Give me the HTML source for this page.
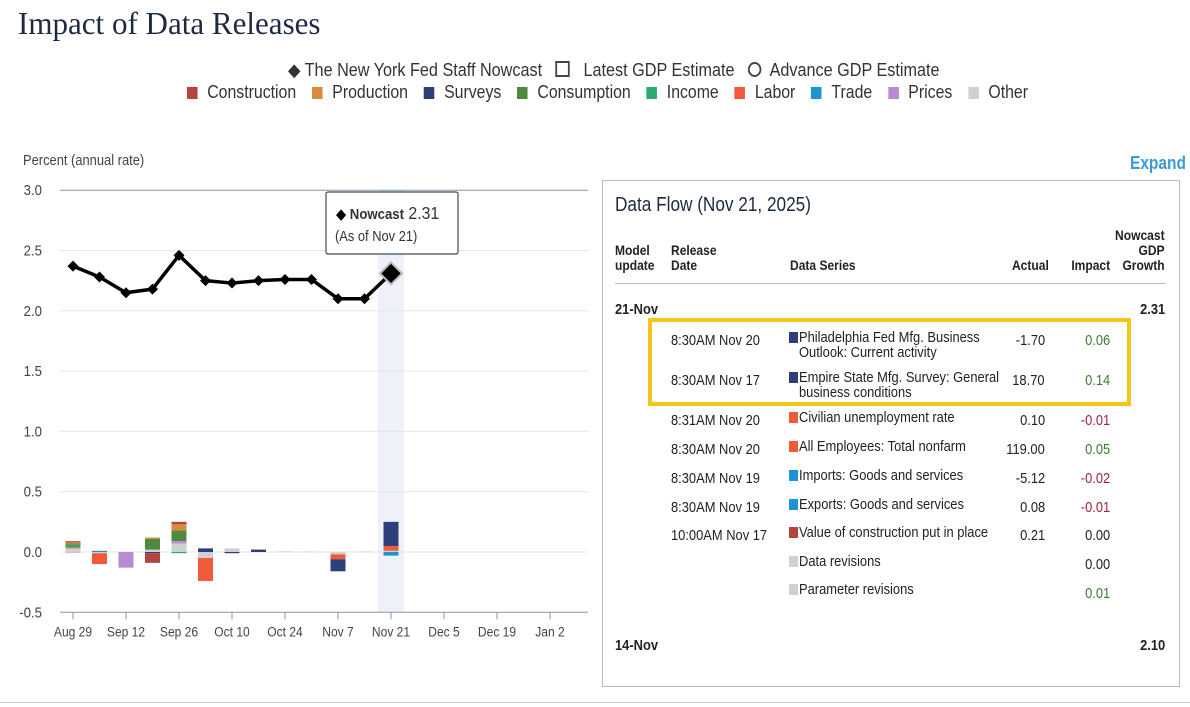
<!DOCTYPE html>
<html><head><meta charset="utf-8">
<style>
body{margin:0;width:1190px;height:707px;background:#fff;position:relative;overflow:hidden;font-family:"Liberation Sans",sans-serif;color:#222}
.t{position:absolute;white-space:nowrap;transform:scaleX(0.86);transform-origin:left top}
.tr{transform-origin:right top}
.sq{display:inline-block;width:12px;height:12px;margin-right:6px;vertical-align:-1px}
#panel{position:absolute;left:602px;top:180px;width:578px;height:507px;border:1px solid #b8bcc4;box-sizing:border-box}
</style></head><body>
<div class="t" style="left:18px;top:5px;font-family:'Liberation Serif',serif;font-size:32px;color:#1c2a44;transform:scaleX(0.97)">Impact of Data Releases</div>

<div class="t" style="left:288px;top:60px;font-size:18px;color:#333;transform:scaleX(0.9)">
<span>◆ The New York Fed Staff Nowcast</span>
<span style="margin-left:10px"><span style="display:inline-block;width:12px;height:12px;border:2px solid #444;vertical-align:-1px"></span>&nbsp;&nbsp; Latest GDP Estimate</span>
<span style="margin-left:10px"><span style="display:inline-block;width:11px;height:11px;border:2px solid #444;border-radius:50%;vertical-align:-1px"></span>&nbsp; Advance GDP Estimate</span>
</div>
<div class="t" id="leg2" style="left:187px;top:82px;font-size:18px;color:#333;transform:scaleX(0.88)"></div>

<div class="t" style="left:23px;top:152px;font-size:15px;color:#444">Percent (annual rate)</div>
<div class="t" style="left:1130px;top:153px;font-size:18px;font-weight:bold;color:#3a9ad9">Expand</div>

<svg id="chart" width="600" height="707" style="position:absolute;left:0;top:0"></svg>

<div id="panel"></div>
<div style="position:absolute;left:0;top:702px;width:1190px;height:1px;background:#c8ccd2"></div>

<script>
const cats=["Construction","Production","Surveys","Consumption","Income","Labor","Trade","Prices","Other"];
const colors=["#b5443f","#d98b3a","#2d3e7a","#4e8a3e","#2bab6e","#f05a3a","#1a94d4","#b98bd4","#cfcfd4"];
const weeks=["Aug 29","Sep 5","Sep 12","Sep 19","Sep 26","Oct 3","Oct 10","Oct 17","Oct 24","Oct 31","Nov 7","Nov 14","Nov 21"];
const nowcast=[2.37,2.28,2.15,2.18,2.46,2.25,2.23,2.25,2.26,2.26,2.10,2.10,2.31];
const construction=[0.01,0,0,-0.08,0.02,0,0,0,0,0,0,0,0];
const production=[0.01,0,0,0.01,0.05,0,0,0,0,0,0,0,0];
const surveys=[0,0,0,-0.01,0,0.03,-0.01,0.02,0,0,-0.1,0,0.20];
const consumption=[0.01,0,0,0.09,0.09,0,0,0,0,0,0,0,0];
const income=[0.02,0,0,0,-0.01,0,0,0,0,0,0,0,0];
const labor=[0.01,-0.09,0,0,0,-0.19,0,0,0,0,-0.04,0,0.04];
const trade=[0,0.01,0,0,0,0,0,0,0,0,0,0,-0.03];
const prices=[-0.005,0,-0.13,0,0.02,0,0,0,0,0,0,0,0];
const other=[0.03,-0.01,0,0.02,0.07,-0.05,0.03,0,0.005,0.003,-0.02,0.003,0.01];
const series=[construction,production,surveys,consumption,income,labor,trade,prices,other];
const yTicks=[3.0,2.5,2.0,1.5,1.0,0.5,0.0,-0.5];
const xTicks=["Aug 29","Sep 12","Sep 26","Oct 10","Oct 24","Nov 7","Nov 21","Dec 5","Dec 19","Jan 2"];

const y=v=>552-v*120.6;
const x=i=>73+i*26.5;
const NS="http://www.w3.org/2000/svg";
const svg=document.getElementById('chart');
const FF='Liberation Sans, sans-serif';
function mk(tag,a,par){const e=document.createElementNS(NS,tag);for(const k in a)e.setAttribute(k,a[k]);(par||svg).appendChild(e);return e;}

const leg=document.getElementById('leg2');
cats.forEach((c,i)=>{const s=document.createElement('span');


s.style.marginRight='18px';
s.innerHTML='<span class="sq" style="background:'+colors[i]+'"></span>&nbsp;'+c;leg.appendChild(s);});

const hb=mk('rect',{x:x(12)-13,y:y(3.0),width:26,height:y(-0.5)-y(3.0),fill:'#eef2f8'});


yTicks.forEach(v=>{
 const l=mk('line',{x1:60,x2:588,y1:y(v),y2:y(v),stroke:v===3||v===-0.5?'#8a95a5':'#e3e6ea','stroke-width':1});
 
 
 const t=mk('text',{x:42,y:y(v)+5,'text-anchor':'end','font-size':15,fill:'#444','font-family':FF,transform:`translate(42,0) scale(0.88,1) translate(-42,0)`});
 t.textContent=v.toFixed(1);
 
 
});
xTicks.forEach((lab,i)=>{
 const xx=x(i*2);
 mk('line',{x1:xx,x2:xx,y1:y(-0.5),y2:y(-0.5)+7,stroke:'#8a95a5'});
 const t=mk('text',{x:xx,y:y(-0.5)+24,'text-anchor':'middle','font-size':14,fill:'#444','font-family':FF,transform:`translate(${xx},0) scale(0.86,1) translate(${-xx},0)`});
 t.textContent=lab;
 
 
});
weeks.forEach((w,i)=>{
 let pos=0,neg=0;
 for(let k=series.length-1;k>=0;k--){
  const v=series[k][i]; if(!v) continue;
  let y0,y1;
  if(v>0){y0=pos;y1=pos+v;pos=y1;}else{y0=neg;y1=neg+v;neg=y1;}
  const r=mk('rect',{x:x(i)-7.5,y:Math.min(y(y0),y(y1)),width:15,height:Math.max(Math.abs(y(y1)-y(y0)),0.6),fill:colors[k]});
  
  
 }
});
const pl=mk('polyline',{points:nowcast.map((v,i)=>x(i)+','+y(v)).join(' '),fill:'none',stroke:'#000','stroke-width':3.5,'stroke-linejoin':'round'});


nowcast.forEach((v,i)=>{
 const last=i===nowcast.length-1, s=last?11:5.5;
 const p=mk('path',{d:`M${x(i)},${y(v)-s}L${x(i)+s},${y(v)}L${x(i)},${y(v)+s}L${x(i)-s},${y(v)}Z`,fill:'#000',stroke:last?'#bbb':'none','stroke-width':last?2:0});
 
 
});
const tg=mk('g',{});


mk('rect',{x:326,y:192,width:132,height:62,rx:2,fill:'#fff',stroke:'#3c4a5c','stroke-width':1.2},tg);
const t1=mk('text',{x:336,y:219,'font-size':15,'font-family':FF,transform:'translate(336,0) scale(0.88,1) translate(-336,0)'},tg);
t1.innerHTML='<tspan>◆ </tspan><tspan font-weight="bold" fill="#333">Nowcast</tspan><tspan font-size="18" fill="#333"> '+nowcast[12].toFixed(2)+'</tspan>';
const t2=mk('text',{x:335,y:241,'font-size':15,fill:'#333','font-family':FF,transform:'translate(335,0) scale(0.86,1) translate(-335,0)'},tg);
t2.textContent='(As of Nov 21)';

const P=document.getElementById('panel');
function tx(l,t,txt,st,name,right){const d=document.createElement('div');d.className='t'+(right?' tr':'');
d.style.cssText=(right?'right:'+(578-2-l)+'px;text-align:right;':'left:'+l+'px;')+'top:'+t+'px;'+(st||'');d.innerHTML=txt;


P.appendChild(d);return d;}
tx(12,13,'Data Flow (Nov 21, 2025)','font-size:20px;color:#1c2a44','panel-title');
const hs='font-size:14px;font-weight:bold;line-height:15px;color:#222';
tx(12,62,'Model<br>update',hs,'header-model-update');
tx(68,62,'Release<br>Date',hs,'header-release-date');
tx(187,77,'Data Series',hs,'header-data-series');
tx(446,77,'Actual',hs,'header-actual',true);
tx(507,77,'Impact',hs,'header-impact',true);
tx(562,47,'Nowcast<br>GDP<br>Growth',hs,'header-nowcast',true);
const hl=document.createElement('div');hl.style.cssText='position:absolute;left:12px;top:102px;width:551px;height:1px;background:#b8bcc4';P.appendChild(hl);
tx(12,120,'21-Nov','font-size:15px;font-weight:bold','model-update-21-nov');
tx(562,120,'2.31','font-size:15px;font-weight:bold','nowcast-21-nov',true);
const rows=[
 ["8:30AM Nov 20","Philadelphia Fed Mfg. Business<br>Outlook: Current activity","-1.70","0.06",2,149,160],
 ["8:30AM Nov 17","Empire State Mfg. Survey: General<br>business conditions","18.70","0.14",2,189,200],
 ["8:31AM Nov 20","Civilian unemployment rate","0.10","-0.01",5,229,240],
 ["8:30AM Nov 20","All Employees: Total nonfarm","119.00","0.05",5,258,269],
 ["8:30AM Nov 19","Imports: Goods and services","-5.12","-0.02",6,287,298],
 ["8:30AM Nov 19","Exports: Goods and services","0.08","-0.01",6,316,327],
 ["10:00AM Nov 17","Value of construction put in place","0.21","0.00",0,344,355],
 ["","Data revisions","","0.00",8,373,384],
 ["","Parameter revisions","","0.01",8,401,413]];
const st='font-size:15px;color:#222;line-height:15px';
rows.forEach(r=>{
 tx(68,r[6]-8,r[0],st,'release-date');
 const s=document.createElement('div');s.style.cssText='position:absolute;left:186px;top:'+(r[5]+2)+'px;width:9px;height:11px;background:'+colors[r[4]];
 
 
 P.appendChild(s);
 tx(196,r[5],r[1],st,'data-series-name');
 tx(442,r[6]-8,r[2],st,'actual-value',true);
 const v=parseFloat(r[3]);
 tx(507,r[6]-8,r[3],st+';color:'+(v>0?'#3d7a34':v<0?'#a3253c':'#222'),'impact-value',true);
});
const yb=document.createElement('div');yb.style.cssText='position:absolute;left:45px;top:137px;width:483px;height:88px;border:4px solid #f5c518;box-sizing:border-box';


P.appendChild(yb);
tx(12,456,'14-Nov','font-size:15px;font-weight:bold','model-update-14-nov');
tx(562,456,'2.10','font-size:15px;font-weight:bold','nowcast-14-nov',true);
</script>
</body></html>
